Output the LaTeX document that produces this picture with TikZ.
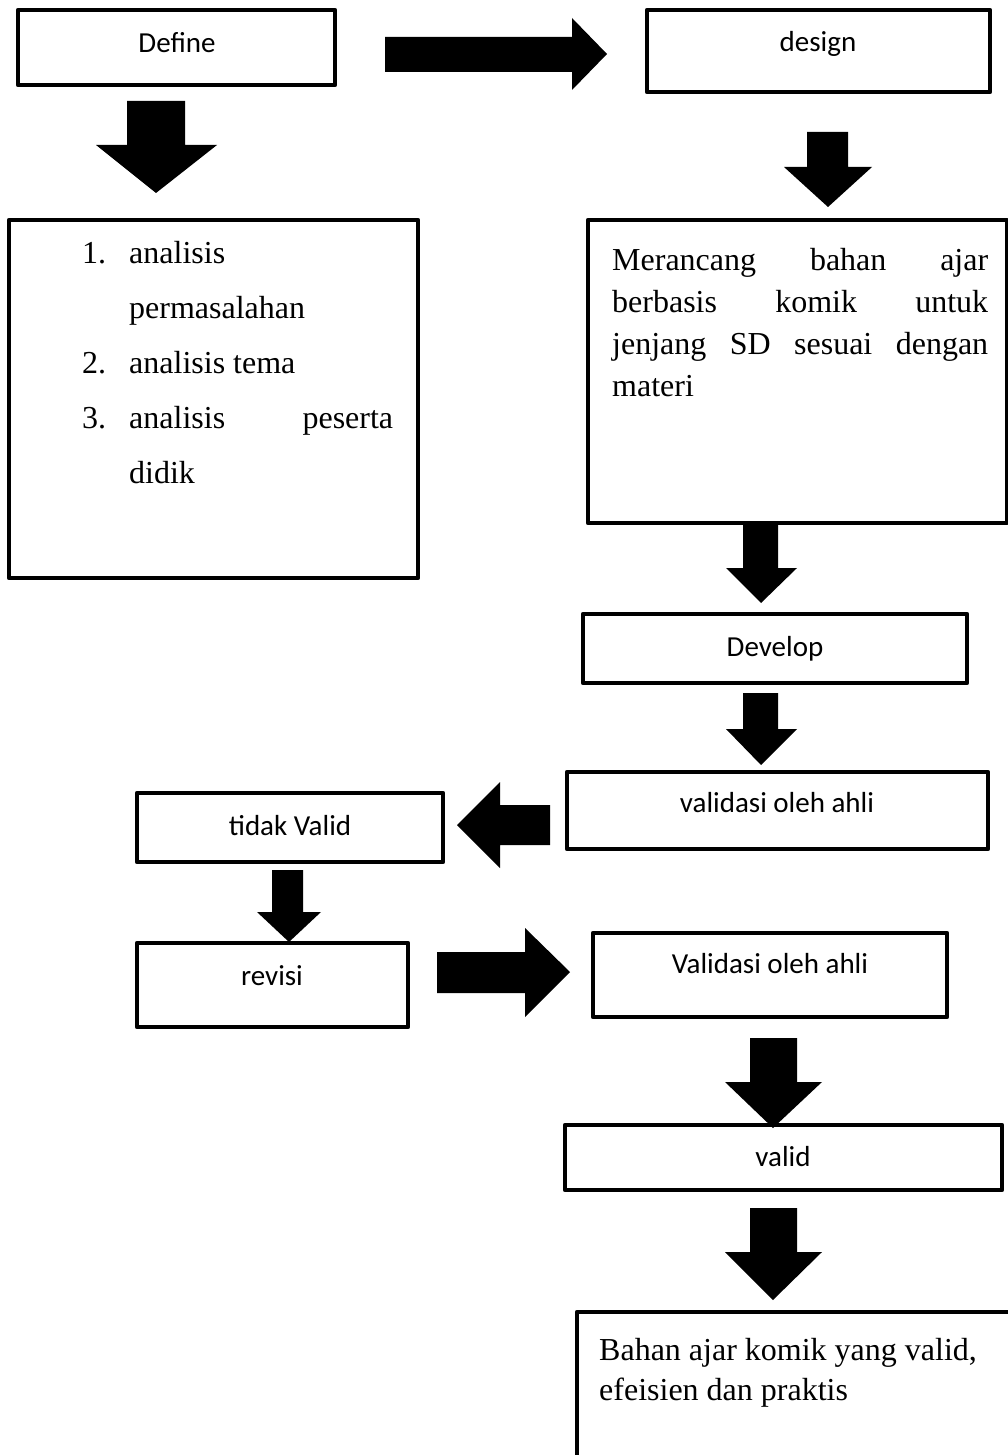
\documentclass[tikz,border=0pt]{standalone}
\usepackage{fontspec}
\setmainfont{Liberation Serif}
\newfontfamily\calib{Carlito}
\begin{document}
\begin{tikzpicture}[x=1pt,y=-1pt,
  box/.style={draw=black,line width=4.5pt,line join=round},
  lbl/.style={anchor=base,inner sep=0pt,font=\calib\fontsize{29}{34}\selectfont},
  ser/.style={anchor=base west,inner sep=0pt,font=\fontsize{32}{40}\selectfont},
  blk/.style={fill=black,draw=none}]
\clip (0,0) rectangle (1008,1455);
\fill[white] (0,0) rectangle (1008,1455);
% boxes
\draw[box] (18,10) rectangle (335,85) coordinate (definebox);
\draw[box] (647,10) rectangle (990,92);
\draw[box] (9,220) rectangle (418,578);
\draw[box] (588,220) rectangle (1007,523);
\draw[box] (583,614) rectangle (967,683);
\draw[box] (567,772) rectangle (988,849);
\draw[box] (137,793) rectangle (443,862);
\draw[box] (137,943) rectangle (408,1027);
\draw[box] (593,933) rectangle (947,1017);
\draw[box] (565,1125) rectangle (1002,1190);
\draw[box] (577,1312) rectangle (1030,1480);
% labels
\node[lbl] (tdefine) at (177,53) {Define};
\node[lbl] (tdesign) at (818,52) {design};
\node[lbl] (tdevelop) at (775,656) {Develop};
\node[lbl] (tval1) at (777,812) {validasi oleh ahli};
\node[lbl] (ttidak) at (290,835) {tidak Valid};
\node[lbl] (trevisi) at (272,985) {revisi};
\node[lbl] (tval2) at (770,973) {Validasi oleh ahli};
\node[lbl] (tvalid) at (783,1166) {valid};
% list
\node[ser] (n1) at (82,263) {1.};
\node[ser] (l1) at (129,263) {analisis};
\node[ser] (l1b) at (129,318) {permasalahan};
\node[ser] (n2) at (82,373) {2.};
\node[ser] (l2) at (129,373) {analisis tema};
\node[ser] (n3) at (82,428) {3.};
\node[ser] (l3) at (129,428) {\makebox[264pt][s]{analisis peserta}};
\node[ser] (l3b) at (129,483) {didik};
% design text
\node[ser] (m1) at (612,270) {\makebox[376pt][s]{Merancang bahan ajar}};
\node[ser] (m2) at (612,312) {\makebox[376pt][s]{berbasis komik untuk}};
\node[ser] (m3) at (612,354) {\makebox[376pt][s]{jenjang SD sesuai dengan}};
\node[ser] (m4) at (612,396) {materi};
% final text
\node[ser] (f1) at (599,1360) {Bahan ajar komik yang valid,};
\node[ser] (f2) at (599,1400) {efeisien dan praktis};
% block arrows
\fill[blk] (127,101) -- (185,101) -- (185,145) -- (217,145) -- (156,193) -- (96,145) -- (127,145) -- cycle;
\fill[blk] (385,37) -- (572,37) -- (572,18) -- (607,54) -- (572,90) -- (572,72) -- (385,72) -- cycle;
\fill[blk] (807,132) -- (848,132) -- (848,167) -- (872,167) -- (828,207) -- (784,167) -- (807,167) -- cycle;
\fill[blk] (743,525) -- (778,525) -- (778,568) -- (797,568) -- (761,603) -- (726,568) -- (743,568) -- cycle;
\fill[blk] (743,693) -- (778,693) -- (778,729) -- (797,729) -- (761,765) -- (726,729) -- (743,729) -- cycle;
\fill[blk] (550,805) -- (500,805) -- (500,782) -- (457,825) -- (500,868) -- (500,845) -- (550,845) -- cycle;
\fill[blk] (272,870) -- (303,870) -- (303,912) -- (321,912) -- (289,942) -- (257,912) -- (272,912) -- cycle;
\fill[blk] (437,952) -- (525,952) -- (525,928) -- (570,972) -- (525,1017) -- (525,993) -- (437,993) -- cycle;
\fill[blk] (750,1038) -- (797,1038) -- (797,1082) -- (822,1082) -- (773,1128) -- (725,1082) -- (750,1082) -- cycle;
\fill[blk] (750,1208) -- (797,1208) -- (797,1252) -- (822,1252) -- (773,1300) -- (725,1252) -- (750,1252) -- cycle;
\end{tikzpicture}
\end{document}
